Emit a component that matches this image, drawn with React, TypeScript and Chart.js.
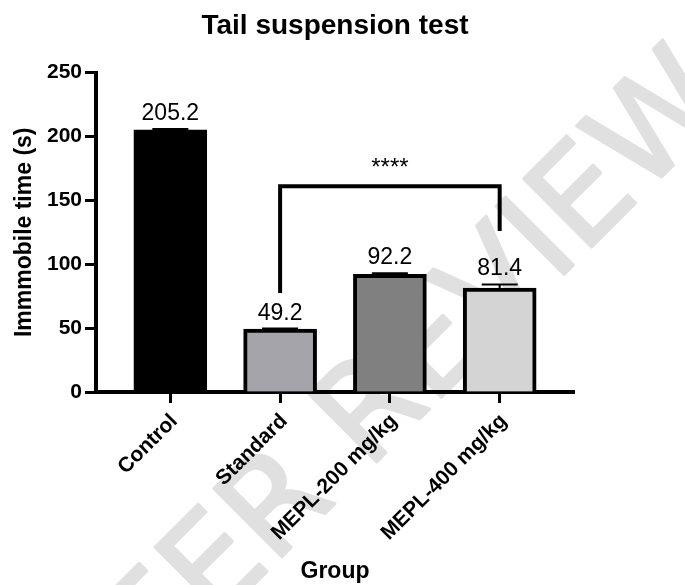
import React, { useEffect, useRef } from 'react';
import { Chart, registerables } from 'chart.js';

Chart.register(...registerables);

// ---- data ----
const categories = ['Control', 'Standard', 'MEPL-200 mg/kg', 'MEPL-400 mg/kg'];
const means = [205.2, 49.2, 92.2, 81.4];
const sem = [0.6, 0.5, 0.8, 2.8];
const valueLabels = ['205.2', '49.2', '92.2', '81.4'];
const yTicks = [0, 50, 100, 150, 200, 250];
const barColors = ['#000000', '#a5a4aa', '#808080', '#d4d4d4'];
// significance bracket: Standard vs MEPL-400 mg/kg
const bracketFrom = 1;
const bracketTo = 3;
const bracketTop = 161;
const bracketFromEnd = 77.5;
const bracketToEnd = 126;
const bracketLabel = '****';
const chartTitle = 'Tail suspension test';
const yTitle = 'Immmobile time (s)';
const xTitle = 'Group';
const watermark = 'PEER REVIEW';

const FONT = 'Arial, "Liberation Sans", Helvetica, sans-serif';

const watermarkPlugin = {
  id: 'watermark',
  beforeDraw(chart: any) {
    const ctx = chart.ctx;
    ctx.save();
    ctx.translate(392, 398);
    ctx.rotate(-Math.PI / 4);
    ctx.font = `132px "DejaVu Sans", ${FONT}`;
    ctx.fillStyle = '#e0e0e0';
    ctx.strokeStyle = '#e0e0e0';
    ctx.lineWidth = 3;
    ctx.lineJoin = 'round';
    ctx.textAlign = 'center';
    ctx.textBaseline = 'middle';
    ctx.fillText(watermark, 0, 0);
    ctx.strokeText(watermark, 0, 0);
    ctx.restore();
  },
};

const annotationPlugin = {
  id: 'annotations',
  afterDatasetsDraw(chart: any) {
    const ctx = chart.ctx;
    const xs = chart.scales.x;
    const ys = chart.scales.y;
    ctx.save();
    ctx.strokeStyle = '#000';
    ctx.fillStyle = '#000';
    // error bars + value labels
    for (let i = 0; i < means.length; i++) {
      const x = xs.getPixelForValue(i);
      const yBar = ys.getPixelForValue(means[i]);
      const yErr = ys.getPixelForValue(means[i] + sem[i]);
      ctx.lineWidth = 2;
      ctx.beginPath();
      ctx.moveTo(x, yBar);
      ctx.lineTo(x, yErr);
      ctx.moveTo(x - 18, yErr);
      ctx.lineTo(x + 18, yErr);
      ctx.stroke();
      ctx.font = `23px ${FONT}`;
      ctx.textAlign = 'center';
      ctx.textBaseline = 'alphabetic';
      ctx.fillText(valueLabels[i], x, yErr - 9);
    }
    // bracket
    const x1 = xs.getPixelForValue(bracketFrom);
    const x2 = xs.getPixelForValue(bracketTo);
    const yT = ys.getPixelForValue(bracketTop);
    ctx.lineWidth = 4;
    ctx.lineJoin = 'miter';
    ctx.beginPath();
    ctx.moveTo(x1, ys.getPixelForValue(bracketFromEnd));
    ctx.lineTo(x1, yT);
    ctx.lineTo(x2, yT);
    ctx.lineTo(x2, ys.getPixelForValue(bracketToEnd));
    ctx.stroke();
    ctx.font = `24px ${FONT}`;
    ctx.textAlign = 'center';
    ctx.textBaseline = 'alphabetic';
    ctx.fillText(bracketLabel, (x1 + x2) / 2, yT - 11);
    ctx.restore();
  },
};

export default function App() {
  const ref = useRef<HTMLCanvasElement | null>(null);

  useEffect(() => {
    if (!ref.current) return;
    const chart = new Chart(ref.current, {
      type: 'bar',
      data: {
        datasets: [
          {
            data: means.map((v, i) => ({ x: i, y: v })),
            backgroundColor: barColors,
            borderColor: '#000000',
            borderWidth: 4,
            barThickness: 73,
          } as any,
        ],
      },
      options: {
        responsive: false,
        animation: false,
        layout: { padding: { left: 0, right: 111, top: 0, bottom: 0 } },
        plugins: {
          legend: { display: false },
          tooltip: { enabled: false },
          title: {
            display: true,
            text: chartTitle,
            fullSize: false,
            color: '#000',
            font: { family: FONT, size: 28, weight: 'bold' },
            padding: { top: 9, bottom: 30 },
          },
        },
        scales: {
          x: {
            type: 'linear',
            min: -0.677,
            max: 3.677,
            offset: false,
            afterBuildTicks: (s: any) => {
              s.ticks = categories.map((_, i) => ({ value: i }));
            },
            afterFit: (s: any) => {
              s.height = 193;
            },
            grid: {
              offset: false,
              drawOnChartArea: false,
              drawTicks: true,
              tickLength: 11,
              tickWidth: 3,
              tickColor: '#000',
            },
            border: { display: true, color: '#000', width: 4 },
            ticks: {
              autoSkip: false,
              maxRotation: 45,
              minRotation: 45,
              padding: 6,
              labelOffset: 4,
              color: '#000',
              font: { family: FONT, size: 21, weight: 'bold' },
              callback: (v: any) => categories[v] ?? '',
            },
            title: {
              display: true,
              text: xTitle,
              color: '#000',
              font: { family: FONT, size: 23, weight: 'bold' },
              padding: { top: 0, bottom: 0 },
            },
          } as any,
          y: {
            min: 0,
            max: 250,
            afterBuildTicks: (s: any) => {
              s.ticks = yTicks.map((v) => ({ value: v }));
            },
            afterFit: (s: any) => {
              s.width = 96;
            },
            grid: {
              drawOnChartArea: false,
              drawTicks: true,
              tickLength: 11,
              tickWidth: 3,
              tickColor: '#000',
            },
            border: { display: true, color: '#000', width: 4 },
            ticks: {
              padding: 3,
              color: '#000',
              font: { family: FONT, size: 21, weight: 'bold' },
            },
            title: {
              display: true,
              text: yTitle,
              color: '#000',
              font: { family: FONT, size: 23, weight: 'bold' },
              padding: { top: 11, bottom: 0 },
            },
          } as any,
        },
      },
      plugins: [watermarkPlugin, annotationPlugin],
    });
    return () => chart.destroy();
  }, []);

  return (
    <div style={{ position: 'absolute', left: 0, top: 0, width: 685, height: 585, background: '#fff' }}>
      <canvas ref={ref} width={685} height={585} style={{ display: 'block' }} />
    </div>
  );
}
